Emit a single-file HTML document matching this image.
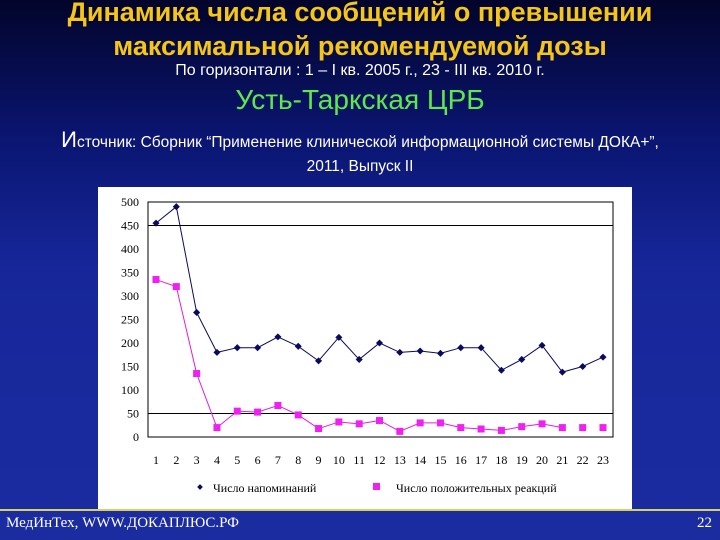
<!DOCTYPE html>
<html><head><meta charset="utf-8"><style>
body{margin:0;width:720px;height:540px;overflow:hidden;background:linear-gradient(#02042a 0%,#0a1570 25%,#17279a 50%,#1a2ca0 100%);font-family:"Liberation Sans","Noto Sans CJK SC",sans-serif;position:relative}
.t{position:absolute;left:0;width:720px;text-align:center}
</style></head><body>
<div class="t" style="top:-5px;color:#f5c518;font-weight:bold;font-size:27px;line-height:34px">Динамика числа сообщений о превышении<br>максимальной рекомендуемой дозы</div>
<div class="t" style="top:62px;color:#fff;font-size:16px">По горизонтали : 1 – I кв. 2005 г., 23 - III кв. 2010 г.</div>
<div class="t" style="top:84px;color:#5ee84a;font-size:28px">Усть-Таркская ЦРБ</div>
<div class="t" style="top:128px;color:#fff;font-size:15.5px;line-height:24px"><span style="font-size:22px">И</span>сточник: Сборник “Применение клинической информационной системы ДОКА+”,<br>2011, Выпуск II</div>
<svg style="position:absolute;left:98px;top:187px" width="534" height="323" id="c"></svg>
<div style="position:absolute;left:0;top:509px;width:720px;height:2px;background:#d8d060"></div>
<div style="position:absolute;left:6px;top:515px;color:#fff;font-family:'Liberation Serif',serif;font-size:15px">МедИнТех, WWW.ДОКАПЛЮС.РФ</div>
<div style="position:absolute;right:8px;top:515px;color:#fff;font-family:'Liberation Serif',serif;font-size:15px">22</div>
<script>
const categories=[1,2,3,4,5,6,7,8,9,10,11,12,13,14,15,16,17,18,19,20,21,22,23];
const reminders=[455,490,265,180,190,190,213,193,162,212,165,200,180,183,178,190,190,142,165,195,138,150,170];
const reactions=[335,320,135,20,55,53,67,47,18,32,28,35,12,30,30,20,17,14,22,28,20,20,20];
const yTicks=[0,50,100,150,200,250,300,350,400,450,500];
const gridLines=[50,450];
const NS='http://www.w3.org/2000/svg';
const svg=document.getElementById('c');
const L=50,R=515,T=15,B=250;
const x=i=>58+(i)*(447/(categories.length-1));
const y=v=>B-(v/500)*(B-T);
function el(t,a,p){const e=document.createElementNS(NS,t);for(const k in a)e.setAttribute(k,a[k]);(p||svg).appendChild(e);return e;}
el('rect',{x:0,y:0,width:534,height:323,fill:'#fff'});
el('rect',{x:L,y:T,width:R-L,height:B-T,fill:'none',stroke:'#000','stroke-width':1});
gridLines.forEach(g=>{const l=el('line',{x1:L,x2:R,y1:y(g),y2:y(g),stroke:'#000'});

});
yTicks.forEach(v=>{const t=el('text',{x:L-9,y:y(v)+4,'text-anchor':'end','font-family':'Liberation Serif,serif','font-size':12,fill:'#000'});t.textContent=v;

});
categories.forEach((c,i)=>{const t=el('text',{x:x(i),y:B+27,'text-anchor':'middle','font-family':'Liberation Serif,serif','font-size':12,fill:'#000'});t.textContent=c;

});
const p1=el('polyline',{points:reminders.map((v,i)=>x(i)+','+y(v)).join(' '),fill:'none',stroke:'#0a0a60','stroke-width':1});


const p2=el('polyline',{points:reactions.slice(0,21).map((v,i)=>x(i)+','+y(v)).join(' '),fill:'none',stroke:'#e020e0','stroke-width':1});


reminders.forEach((v,i)=>{const m=el('rect',{x:x(i)-2.5,y:y(v)-2.5,width:5,height:5,fill:'#0a0a60',transform:`rotate(45 ${x(i)} ${y(v)})`});

});
reactions.forEach((v,i)=>{const m=el('rect',{x:x(i)-3.5,y:y(v)-3.5,width:7,height:7,fill:'#f020f0'});

});
const g1=el('rect',{x:100,y:298,width:4,height:4,fill:'#0a0a60',transform:'rotate(45 102 300)'});


const lt1=el('text',{x:115,y:305,'font-family':'Liberation Serif,serif','font-size':12,fill:'#000'});lt1.textContent='Число напоминаний';


const g2=el('rect',{x:275,y:296,width:7,height:7,fill:'#f020f0'});


const lt2=el('text',{x:298,y:305,'font-family':'Liberation Serif,serif','font-size':12,fill:'#000'});lt2.textContent='Число положительных реакций';


</script>
</body></html>
